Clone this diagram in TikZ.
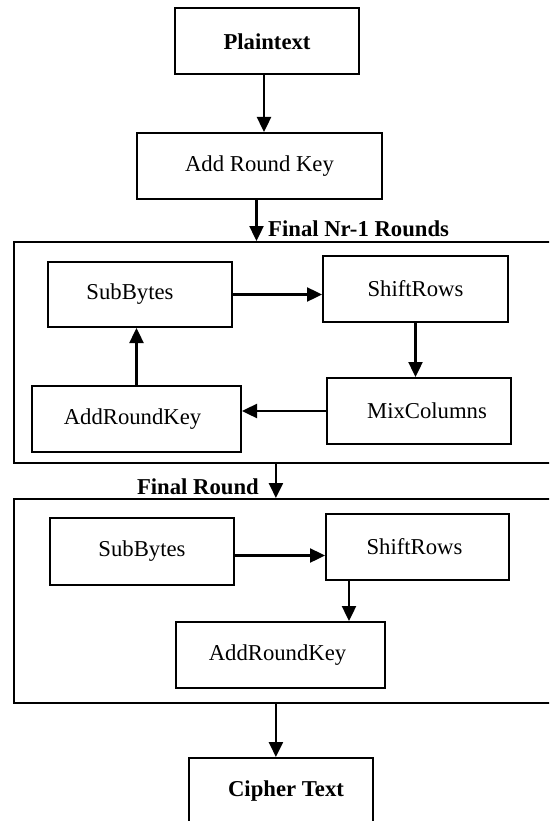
\documentclass[tikz,border=0pt]{standalone}
\usepackage{fontspec}
\setmainfont{Liberation Serif}
\usetikzlibrary{arrows.meta,positioning}

\begin{document}
\begin{tikzpicture}[x = 1pt, y = -1pt,
    every node/.style = { font = \fontsize{22.7}{27}\selectfont, inner sep = 0pt },
    stage/.style = { draw, line width = 2pt, minimum width = 184pt, minimum height = 66pt },
    frame/.style = { draw, line width = 1.8pt, minimum width = 547pt, anchor = north west },
    arr/.style = { line width = 2.4pt, -{Triangle[length = 15pt, width = 14pt]} }]
    \path[use as bounding box, clip] (0,0) rectangle (549,821);

    \node [stage] (plain) at (267,41.5) { \textbf{Plaintext} };
    \node [stage, minimum width = 245pt] (ark) at (259.5,166) { Add Round Key };

    % rounds 1 .. Nr-1
    \node [frame, minimum height = 221pt] (rounds) at (13,241) {};
    \node [anchor = west] (roundslbl) at (268,229) { \textbf{Final Nr-1 Rounds} };
    \node [stage, minimum height = 65pt] (subA) at (140,294.5) { \hspace*{-20pt}SubBytes };
    \node [stage, minimum width = 185pt] (shiftA) at (415.5,289) { ShiftRows };
    \node [stage] (mixA) at (419,411) { \hspace*{16pt}MixColumns };
    \node [stage, minimum width = 209pt] (addA) at (136.5,419) { \hspace*{-8pt}AddRoundKey };

    % last round
    \node [frame, minimum height = 204pt] (last) at (13,498) {};
    \node [anchor = east] (lastlbl) at (259,487) { \textbf{Final Round} };
    \node [stage, minimum height = 67pt] (subB) at (142,551.5) { SubBytes };
    \node [stage, minimum width = 183pt] (shiftB) at (417.5,547) { \hspace*{-6pt}ShiftRows };
    \node [stage, minimum width = 209pt] (addB) at (280.5,655) { \hspace*{-6pt}AddRoundKey };

    \node [stage, minimum height = 67pt] (cipher) at (281,791.5) { \hspace*{10pt}\textbf{Cipher Text} };

    \draw [arr] ([xshift = -3pt]plain.south) -- ([xshift = -3pt]plain.south |- ark.north);
    \draw [arr] ([xshift = -3pt]ark.south) -- ([xshift = -3pt]ark.south |- rounds.north);
    \draw [arr] (subA.east) -- (subA.east -| shiftA.west);
    \draw [arr] (shiftA.south) -- (shiftA.south |- mixA.north);
    \draw [arr] (mixA.west) -- (mixA.west -| addA.east);
    \draw [arr] (addA.north) -- (addA.north |- subA.south);
    \draw [arr] ([xshift = -11.5pt]rounds.south) -- ([xshift = -11.5pt]rounds.south |- last.north);
    \draw [arr] ([yshift = -4pt]subB.east) -- ([yshift = -4pt]subB.east -| shiftB.west);
    \draw [arr] ([xshift = -68.5pt]shiftB.south) -- ([xshift = -68.5pt]shiftB.south |- addB.north);
    \draw [arr] ([xshift = -11.5pt]last.south) -- ([xshift = -11.5pt]last.south |- cipher.north);
\end{tikzpicture}
\end{document}
